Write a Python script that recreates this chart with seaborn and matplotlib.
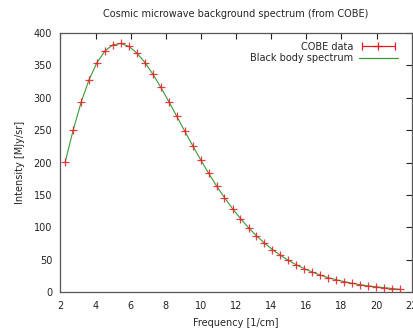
import numpy as np
import matplotlib
matplotlib.use('Agg')
import matplotlib.pyplot as plt
import seaborn as sns
from matplotlib.lines import Line2D
from matplotlib.legend_handler import HandlerLine2D, HandlerTuple

# COBE FIRAS monopole spectrum
freq = [2.27, 2.72, 3.18, 3.63, 4.08, 4.54, 4.99, 5.45, 5.90, 6.35, 6.81,
        7.26, 7.71, 8.17, 8.62, 9.08, 9.53, 9.98, 10.44, 10.89, 11.34,
        11.80, 12.25, 12.71, 13.16, 13.61, 14.07, 14.52, 14.97, 15.43,
        15.88, 16.34, 16.79, 17.24, 17.70, 18.15, 18.61, 19.06, 19.51,
        19.97, 20.42, 20.87, 21.33]
intensity = [200.7, 249.5, 293.0, 327.8, 354.1, 372.1, 381.5, 383.5, 378.9,
             368.8, 354.1, 336.3, 316.1, 293.9, 271.4, 248.2, 225.9, 204.3,
             183.3, 163.8, 145.8, 128.8, 113.6, 99.5, 87.0, 75.9, 65.8, 57.0,
             49.2, 42.3, 36.4, 31.1, 26.6, 22.6, 19.3, 16.4, 13.8, 11.7, 9.9,
             8.4, 7.1, 5.8, 4.5]
# uncertainties (MJy/sr), too small to see
err = [0.005, 0.009, 0.015, 0.005, 0.009, 0.007, 0.006, 0.005, 0.004, 0.004,
       0.005, 0.006, 0.006, 0.006, 0.006, 0.006, 0.005, 0.005, 0.004, 0.004,
       0.004, 0.004, 0.004, 0.003, 0.004, 0.004, 0.004, 0.004, 0.005, 0.005,
       0.005, 0.005, 0.005, 0.005, 0.006, 0.006, 0.006, 0.007, 0.008, 0.009,
       0.011, 0.014, 0.018]

xticks = list(range(2, 23, 2))
yticks = list(range(0, 401, 50))

sns.set_style('white')
plt.rcParams['font.family'] = ['DejaVu Sans']

fig = plt.figure(figsize=(4.14, 3.31), dpi=100)
ax = fig.add_axes([0.146, 0.117, 0.8485, 0.784])

red = '#e8191c'
green = '#3a9a3a'

sns.lineplot(x=freq, y=intensity, ax=ax, color=green, linewidth=0.8,
             zorder=2, legend=False)
ax.errorbar(freq, intensity, yerr=err, fmt='none', ecolor=red,
            elinewidth=0.8, zorder=3)
ax.plot(freq, intensity, linestyle='none', marker='+', color=red,
        markersize=5.5, markeredgewidth=0.9, alpha=0.85, zorder=3)

ax.set_xlim(2, 22)
ax.set_ylim(0, 400)
ax.set_xticks(xticks)
ax.set_yticks(yticks)
ax.tick_params(direction='in', length=4, width=0.8, top=True, right=True,
               labelsize=7, colors='#222222', pad=6)
for s in ax.spines.values():
    s.set_color('#555555')
    s.set_linewidth(0.9)

ax.set_xlabel('Frequency [1/cm]', fontsize=7, labelpad=5)
ax.set_ylabel('Intensity [MJy/sr]', fontsize=7, labelpad=6)
ax.set_title('Cosmic microwave background spectrum (from COBE)',
             fontsize=7, pad=11, x=0.5)

# gnuplot-style legend keys
eb_line = Line2D([], [], color=red, linewidth=0.9, marker='|',
                 markersize=6, markeredgewidth=0.9)
eb_pt = Line2D([], [], color=red, linestyle='none', marker='+',
               markersize=5.5, markeredgewidth=0.9)
bb = Line2D([], [], color=green, linewidth=0.9)
ax.legend([(eb_line, eb_pt), bb], ['COBE data', 'Black body spectrum'],
          handler_map={eb_line: HandlerLine2D(numpoints=2),
                       eb_pt: HandlerLine2D(numpoints=1),
                       tuple: HandlerTuple(ndivide=1)},
          loc='upper right', frameon=False, fontsize=7, markerfirst=False,
          handlelength=4.0, handletextpad=0.6, labelspacing=0.2,
          borderaxespad=0.5, bbox_to_anchor=(0.985, 1.0))

fig.savefig('out.png', dpi=100)
